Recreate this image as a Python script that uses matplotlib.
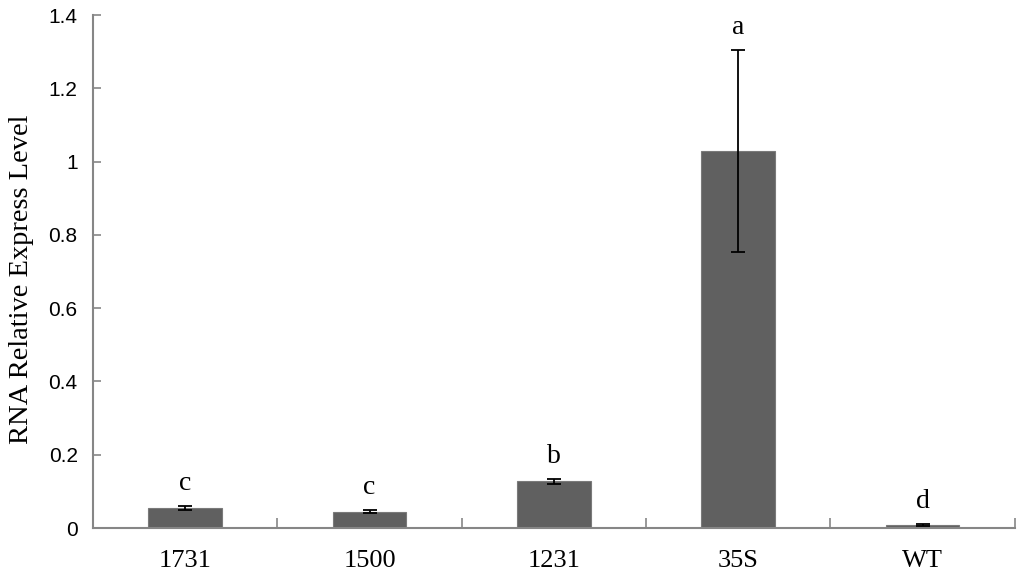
import numpy as np
import matplotlib
matplotlib.use("Agg")
import matplotlib.pyplot as plt

# ── data ────────────────────────────────────────────────────────────────
categories = ["1731", "1500", "1231", "35S", "WT"]
values     = [0.054, 0.045, 0.127, 1.029, 0.008]
errors     = [0.005, 0.004, 0.007, 0.275, 0.003]
letters    = ["c", "c", "b", "a", "d"]
y_ticks    = [0, 0.2, 0.4, 0.6, 0.8, 1.0, 1.2, 1.4]
y_labels   = ["0", "0.2", "0.4", "0.6", "0.8", "1", "1.2", "1.4"]

SERIF = "Liberation Serif"
SANS  = "Liberation Sans"
AXIS_GRAY = "#868686"
BAR_GRAY  = "#606060"

fig = plt.figure(figsize=(10.24, 5.77), dpi=100)
ax = fig.add_axes([0.0908, 0.0849, 0.9002, 0.889])

x = np.arange(len(categories))
ax.bar(x, values, width=0.40, color=BAR_GRAY, edgecolor="#7a7a7a",
       linewidth=0.8, zorder=2)
ax.errorbar(x, values, yerr=errors, fmt="none", ecolor="black",
            elinewidth=1.3, capsize=5, capthick=1.3, zorder=3)

# significance letters above each error bar
for xi, v, e, lab in zip(x, values, errors, letters):
    ax.text(xi, v + e + 0.028, lab, ha="center", va="bottom",
            family=SERIF, fontsize=20)

ax.set_xlim(-0.5, len(categories) - 0.5)
ax.set_ylim(0, 1.4)

ax.set_yticks(y_ticks)
ax.set_yticklabels(y_labels, family=SANS, fontsize=15)
ax.tick_params(axis="y", direction="in", length=6, width=1.2,
               color=AXIS_GRAY, pad=11)

ax.set_xticks(x)
ax.set_xticklabels(categories, family=SERIF, fontsize=19)
ax.tick_params(axis="x", which="major", length=0, pad=16)
ax.set_xticks(np.arange(len(categories) + 1) - 0.5, minor=True)
ax.tick_params(axis="x", which="minor", direction="in", length=7,
               width=1.2, color=AXIS_GRAY)

ax.set_ylabel("RNA Relative Express Level", family=SERIF, fontsize=20.5)
ax.yaxis.set_label_coords(-0.064, 0.485)

for side in ("top", "right"):
    ax.spines[side].set_visible(False)
for side in ("left", "bottom"):
    ax.spines[side].set_color(AXIS_GRAY)
    ax.spines[side].set_linewidth(1.5)

fig.savefig("out.png", dpi=100)
